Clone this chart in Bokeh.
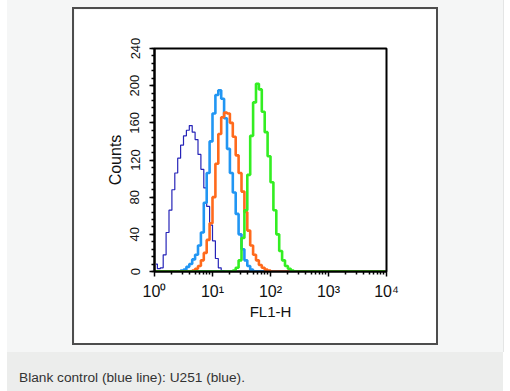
from bokeh.plotting import figure
from bokeh.models import Range1d, FixedTicker, SingleIntervalTicker, Spacer, Div
from bokeh.layouts import column, row
from bokeh.embed import file_html
from bokeh.resources import INLINE

# histogram channel grid: 80 channels over 4 decades (log10 bin centres)
log_centers = [0.025 + 0.05 * k for k in range(80)]
channels = [10 ** c for c in log_centers]

# counts per channel
blank_control = ([8, 3, 4, 18, 42, 66, 88, 106, 122, 136, 146, 152, 157, 150, 142, 126,
                  110, 90, 70, 50, 33, 14, 4, 1] + [0] * 56)
u251_light_blue = ([0] * 9 +
                   [1, 2, 5, 8, 13, 18, 28, 42, 74, 106, 140, 170, 190, 195, 186, 165,
                    132, 106, 85, 62, 40, 24, 12, 6, 2] + [0] * 46)
u251_orange = ([0] * 13 +
               [1, 3, 6, 12, 20, 34, 52, 80, 116, 148, 166, 171, 170, 160, 145, 125,
                106, 86, 64, 44, 28, 18, 12, 7, 4, 2, 1] + [0] * 40)
u251_green = ([0] * 27 +
              [1, 4, 12, 36, 66, 104, 146, 182, 202, 196, 172, 150, 124, 96, 66, 40,
               22, 12, 6, 3, 1] + [0] * 32)

x_major = [1, 10, 100, 1000, 10000]
x_labels = ["10⁰", "10¹", "10²", "10³", "10⁴"]
x_minor = [m * 10 ** d for d in range(4) for m in range(2, 10)]
caption = "Blank control (blue line): U251 (blue)."

FONT = "Liberation Sans"

p = figure(width=362, height=334, x_axis_type="log",
           x_range=Range1d(1, 10000), y_range=Range1d(0, 240),
           output_backend="svg", toolbar_location=None,
           min_border_left=80, min_border_right=50,
           min_border_top=39, min_border_bottom=72,
           background_fill_color="white", border_fill_color="white")

p.step(channels, blank_control, mode="center", line_color="#2624b8", line_width=1.2)
p.step(channels, u251_light_blue, mode="center", line_color="#2196f3", line_width=2.6)
p.step(channels, u251_orange, mode="center", line_color="#ff6a1c", line_width=2.6)
p.step(channels, u251_green, mode="center", line_color="#33ee22", line_width=2.6)

p.xgrid.visible = False
p.ygrid.visible = False
p.outline_line_color = "black"
p.outline_line_width = 2
p.outline_line_alpha = 1.0

xa = p.xaxis[0]
xa.ticker = FixedTicker(ticks=x_major, minor_ticks=x_minor)
xa.major_label_overrides = {v: t for v, t in zip(x_major, x_labels)}
ya = p.yaxis[0]
ya.ticker = SingleIntervalTicker(interval=40, num_minor_ticks=5)
ya.major_label_orientation = "vertical"

for ax in (xa, ya):
    ax.axis_line_color = "black"
    ax.axis_line_width = 2
    ax.major_tick_line_color = "black"
    ax.minor_tick_line_color = "black"
    ax.major_tick_line_width = 1.5
    ax.minor_tick_line_width = 1.5
    ax.major_tick_in = 0
    ax.minor_tick_in = 0
    ax.major_tick_out = 5
    ax.minor_tick_out = 3
    ax.major_label_text_font = FONT
    ax.major_label_text_color = "#111111"
    ax.axis_label_text_font = FONT
    ax.axis_label_text_font_style = "normal"
    ax.axis_label_text_color = "#111111"

xa.axis_label = "FL1-H"
xa.major_label_text_font_size = "16px"
xa.major_label_standoff = 6
xa.axis_label_text_font_size = "15px"
xa.axis_label_standoff = 0

ya.axis_label = "Counts"
ya.major_label_text_font_size = "13px"
ya.major_label_standoff = 10
ya.axis_label_text_font_size = "16px"
ya.axis_label_standoff = 4

# white framed box inside a light grey panel, then a caption bar
box = column(p, styles={"border": "2px solid #4d4d4d"})
panel = column(Spacer(height=7),
               row(Spacer(width=65), box, Spacer(width=65)),
               Spacer(height=7),
               styles={"background-color": "#f5f6f6",
                       "border-right": "1px solid #e4e5e5"})
cap = Div(text=caption, width=496, height=39, margin=(0, 0, 0, 0),
          styles={"background-color": "#ecedec", "padding-left": "12px",
                  "font-family": "'Liberation Sans', Arial, sans-serif",
                  "font-size": "13.7px", "color": "#333333",
                  "line-height": "52px"})
page = row(Spacer(width=7), column(panel, cap))

open("out.html", "w").write(file_html(page, INLINE))
